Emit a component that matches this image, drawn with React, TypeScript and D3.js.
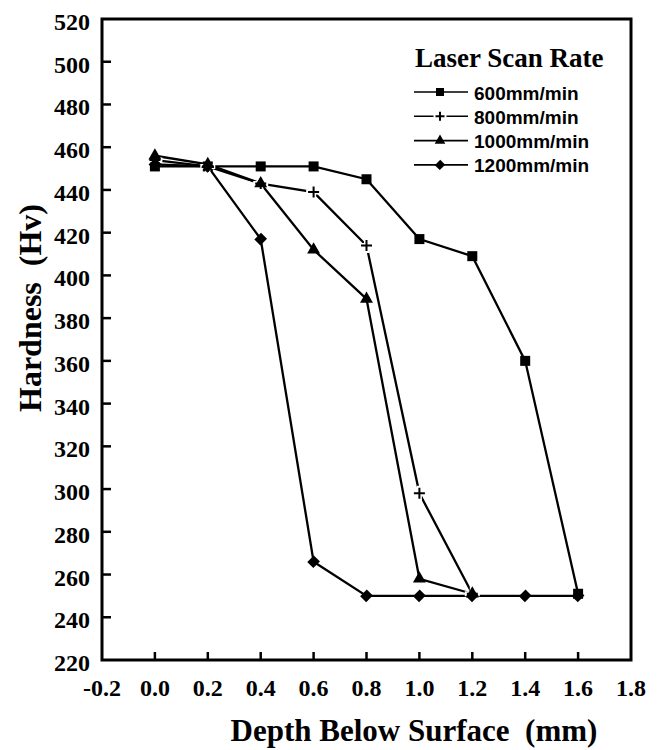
import * as d3 from 'd3';

const depth = [0.0, 0.2, 0.4, 0.6, 0.8, 1.0, 1.2, 1.4, 1.6];
const rate600 = [451, 451, 451, 451, 445, 417, 409, 360, 251];
const rate800 = [454, 451, 443, 439, 414, 298, 251];
const rate1000 = [456, 452, 443, 412, 389, 258, 251];
const rate1200 = [452, 451, 417, 266, 250, 250, 250, 250, 250];
const seriesLabels = ['600mm/min', '800mm/min', '1000mm/min', '1200mm/min'];
const xTicks = [-0.2, 0.0, 0.2, 0.4, 0.6, 0.8, 1.0, 1.2, 1.4, 1.6, 1.8];
const yTicks = [220, 240, 260, 280, 300, 320, 340, 360, 380, 400, 420, 440, 460, 480, 500, 520];

const W = 665;
const H = 750;
const serif = "'Liberation Serif', 'Times New Roman', serif";
const sans = "'Liberation Sans', Arial, sans-serif";

type Shape = 'square' | 'plus' | 'triangle' | 'diamond';
const shapes: Shape[] = ['square', 'plus', 'triangle', 'diamond'];
const seriesValues = [rate600, rate800, rate1000, rate1200];

const Marker = ({ shape, x, y, s }: { shape: Shape; x: number; y: number; s: number }) => {
  if (shape === 'square') {
    return <rect x={x - s / 2} y={y - s / 2} width={s} height={s} fill="#000" />;
  }
  if (shape === 'plus') {
    const h = s / 2;
    return (
      <g>
        <path d={`M${x - h - 2},${y}H${x + h + 2}M${x},${y - h - 2}V${y + h + 2}`} stroke="#fff" strokeWidth={5} />
        <path d={`M${x - h},${y}H${x + h}M${x},${y - h}V${y + h}`} stroke="#000" strokeWidth={2} />
      </g>
    );
  }
  if (shape === 'triangle') {
    const sym = d3.symbol().type(d3.symbolTriangle).size(s * s * 0.6)();
    return <path d={sym || ''} transform={`translate(${x},${y})`} fill="#000" />;
  }
  const sym = d3.symbol().type(d3.symbolSquare).size(s * s * 0.6)();
  return <path d={sym || ''} transform={`translate(${x},${y}) rotate(45) scale(1,1.1)`} fill="#000" />;
};

export default function App() {
  const x = d3.scaleLinear().domain([-0.2, 1.8]).range([102, 631]);
  const y = d3.scaleLinear().domain([220, 520]).range([660, 19]);

  const line = d3
    .line<number>()
    .x((_: number, i: number) => x(depth[i]))
    .y((d: number) => y(d));

  const legendX = 414;
  const legendY = 92;
  const legendStep = 24.3;

  return (
    <div style={{ position: 'absolute', left: 0, top: 0 }}>
      <svg width={W} height={H} style={{ display: 'block', background: '#fff' }}>
        {/* series lines */}
        {seriesValues.map((vals, k) => (
          <path key={k} d={line(vals) || ''} fill="none" stroke="#000" strokeWidth={2.3} />
        ))}
        {/* markers */}
        {seriesValues.map((vals, k) =>
          vals.map((v, i) => (
            <Marker key={`${k}-${i}`} shape={shapes[k]} x={x(depth[i])} y={y(v)} s={shapes[k] === 'square' ? 10 : 11} />
          ))
        )}

        {/* frame */}
        <rect x={x(-0.2)} y={y(520)} width={x(1.8) - x(-0.2)} height={y(220) - y(520)} fill="none" stroke="#000" strokeWidth={3} />

        {/* y ticks */}
        {yTicks.map((t) => (
          <g key={t}>
            {t > 220 && t < 520 && (
              <line x1={x(-0.2)} x2={x(-0.2) + 9} y1={y(t)} y2={y(t)} stroke="#000" strokeWidth={2.5} />
            )}
            <text
              x={90}
              y={y(t) + 3}
              textAnchor="end"
              dominantBaseline="central"
              fontFamily={serif}
              fontWeight="bold"
              fontSize={24}
            >
              {t}
            </text>
          </g>
        ))}

        {/* x ticks */}
        {xTicks.map((t) => (
          <g key={t}>
            {t > -0.2 && t < 1.8 && (
              <line x1={x(t)} x2={x(t)} y1={y(220)} y2={y(220) - 8} stroke="#000" strokeWidth={2.5} />
            )}
            <text
              x={x(t)}
              y={688}
              textAnchor="middle"
              dominantBaseline="central"
              fontFamily={serif}
              fontWeight="bold"
              fontSize={24}
            >
              {t.toFixed(1)}
            </text>
          </g>
        ))}

        {/* axis titles */}
        <text
          x={414}
          y={741}
          textAnchor="middle"
          fontFamily={serif}
          fontWeight="bold"
          fontSize={31}
          style={{ whiteSpace: 'pre' }}
        >
          {'Depth Below Surface  (mm)'}
        </text>
        <text
          transform={`translate(30,308) rotate(-90)`}
          textAnchor="middle"
          dominantBaseline="central"
          fontFamily={serif}
          fontWeight="bold"
          fontSize={32}
          style={{ whiteSpace: 'pre' }}
        >
          {'Hardness  (Hv)'}
        </text>

        {/* legend */}
        <text x={415} y={67} fontFamily={serif} fontWeight="bold" fontSize={27}>
          Laser Scan Rate
        </text>
        {seriesLabels.map((lab, k) => {
          const ly = legendY + k * legendStep;
          return (
            <g key={lab}>
              <line x1={legendX} x2={legendX + 54} y1={ly} y2={ly} stroke="#000" strokeWidth={1.6} />
              <Marker shape={shapes[k]} x={legendX + 26} y={ly} s={shapes[k] === 'square' ? 8 : 9} />
              <text
                x={474}
                y={ly + 1}
                dominantBaseline="central"
                fontFamily={sans}
                fontWeight="bold"
                fontSize={19}
              >
                {lab}
              </text>
            </g>
          );
        })}
      </svg>
    </div>
  );
}
